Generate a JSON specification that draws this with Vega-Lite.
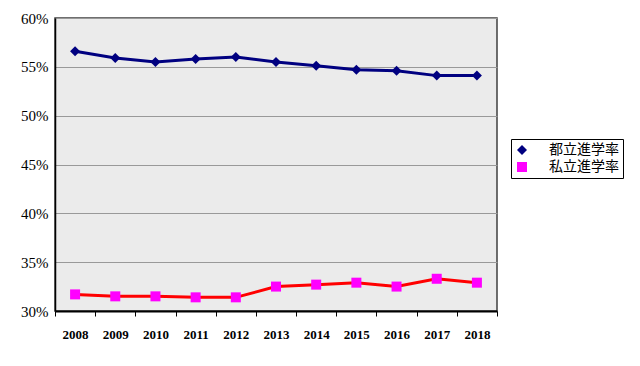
{
  "$schema": "https://vega.github.io/schema/vega-lite/v6.json",
  "width": 442,
  "height": 293,
  "autosize": {"type": "none"},
  "padding": {"left": 55, "top": 18, "right": 143, "bottom": 55},
  "background": "white",
  "data": {"values": [
    {"year": "2008", "series": "都立進学率", "value": 56.6},
    {"year": "2009", "series": "都立進学率", "value": 55.9},
    {"year": "2010", "series": "都立進学率", "value": 55.5},
    {"year": "2011", "series": "都立進学率", "value": 55.8},
    {"year": "2012", "series": "都立進学率", "value": 56.0},
    {"year": "2013", "series": "都立進学率", "value": 55.5},
    {"year": "2014", "series": "都立進学率", "value": 55.1},
    {"year": "2015", "series": "都立進学率", "value": 54.7},
    {"year": "2016", "series": "都立進学率", "value": 54.6},
    {"year": "2017", "series": "都立進学率", "value": 54.1},
    {"year": "2018", "series": "都立進学率", "value": 54.1},
    {"year": "2008", "series": "私立進学率", "value": 31.7},
    {"year": "2009", "series": "私立進学率", "value": 31.5},
    {"year": "2010", "series": "私立進学率", "value": 31.5},
    {"year": "2011", "series": "私立進学率", "value": 31.4},
    {"year": "2012", "series": "私立進学率", "value": 31.4},
    {"year": "2013", "series": "私立進学率", "value": 32.5},
    {"year": "2014", "series": "私立進学率", "value": 32.7},
    {"year": "2015", "series": "私立進学率", "value": 32.9},
    {"year": "2016", "series": "私立進学率", "value": 32.5},
    {"year": "2017", "series": "私立進学率", "value": 33.3},
    {"year": "2018", "series": "私立進学率", "value": 32.9}
  ]},
  "encoding": {
    "x": {
      "field": "year", "type": "ordinal", "title": null,
      "scale": {"paddingInner": 0, "paddingOuter": 0},
      "axis": {
        "labelAngle": 0, "labelFont": "Liberation Serif", "labelFontSize": 13, "labelFontWeight": "bold",
        "labelColor": "#000", "labelPadding": 12, "tickBand": "extent", "ticks": true, "tickSize": 5,
        "tickColor": "#000", "domainColor": "#000", "domainWidth": 2, "grid": false
      }
    },
    "y": {
      "field": "value", "type": "quantitative", "title": null,
      "scale": {"domain": [30, 60], "nice": false, "zero": false},
      "axis": {
        "values": [30, 35, 40, 45, 50, 55, 60], "labelExpr": "datum.value + '%'",
        "labelFont": "Liberation Serif", "labelFontSize": 15, "labelColor": "#000",
        "ticks": false, "labelPadding": 7, "domainColor": "#000", "domainWidth": 1.5,
        "grid": true, "gridColor": "#999999", "gridWidth": 1
      }
    }
  },
  "layer": [
    {
      "mark": {"type": "line", "strokeWidth": 3},
      "encoding": {
        "detail": {"field": "series", "type": "nominal"},
        "stroke": {
          "condition": {"test": "datum.series === '都立進学率'", "value": "#000080"},
          "value": "#ff0000"
        }
      }
    },
    {
      "mark": {"type": "point", "filled": true, "opacity": 1, "size": 100},
      "encoding": {
        "color": {
          "field": "series", "type": "nominal",
          "scale": {"domain": ["都立進学率", "私立進学率"], "range": ["#000080", "#ff00ff"]}
        },
        "shape": {
          "field": "series", "type": "nominal",
          "scale": {"domain": ["都立進学率", "私立進学率"], "range": ["diamond", "square"]}
        }
      }
    }
  ],
  "config": {
    "view": {"fill": "#ebebeb", "stroke": "#404040", "strokeWidth": 1.5},
    "legend": {
      "title": null, "orient": "none", "legendX": 456, "legendY": 121,
      "labelFont": "Noto Sans CJK JP", "labelFontSize": 14, "labelColor": "#000",
      "labelOffset": 20, "strokeColor": "#000", "padding": 4, "rowPadding": 3,
      "symbolSize": 100, "symbolStrokeWidth": 0, "symbolOpacity": 1
    }
  }
}
